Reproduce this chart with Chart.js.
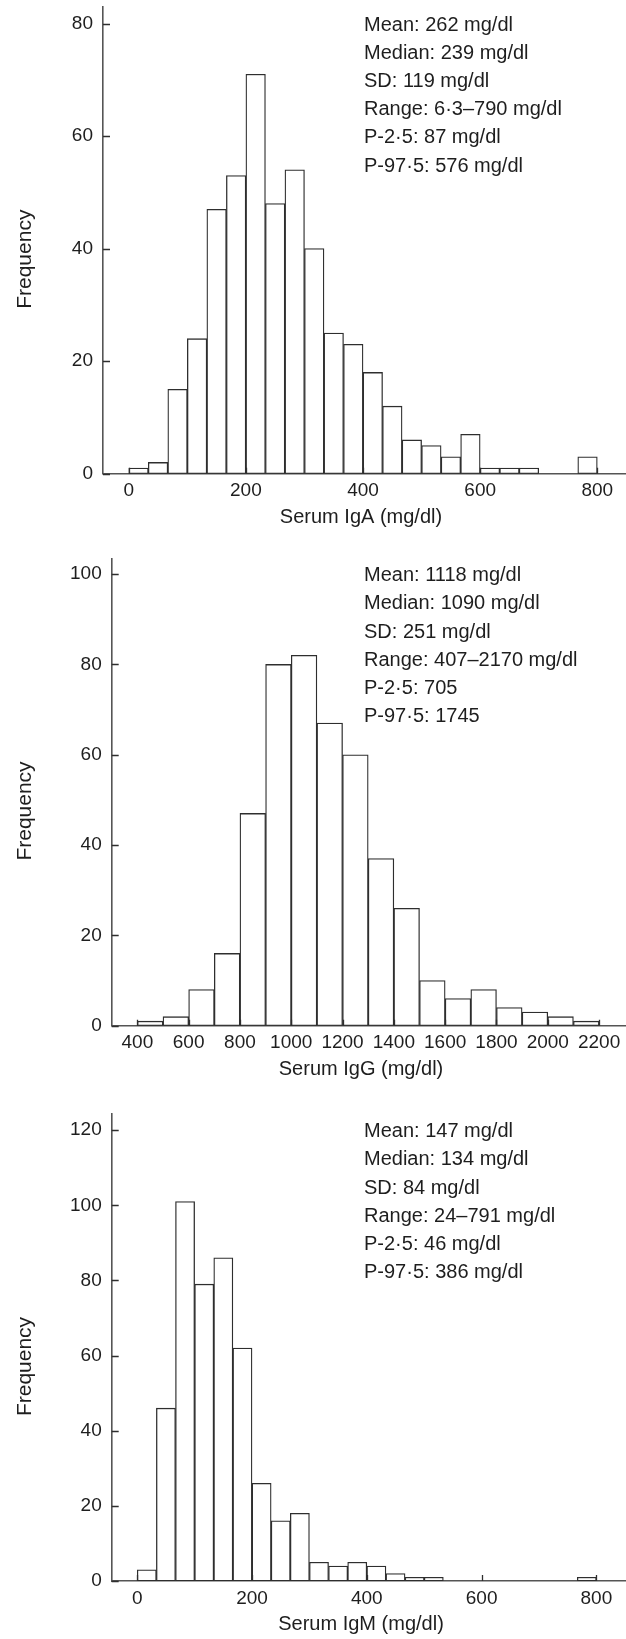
<!DOCTYPE html>
<html>
<head>
<meta charset="utf-8">
<title>Serum immunoglobulin distributions</title>
<script src="https://cdn.jsdelivr.net/npm/chart.js@4.4.1/dist/chart.umd.min.js"></script>
<style>
  html, body { margin: 0; padding: 0; background: #fff; }
  .panel { position: absolute; left: 0; width: 626px; }
  #panelA { top: 0; height: 530px; }
  #panelG { top: 530px; height: 555px; }
  #panelM { top: 1085px; height: 554px; }
</style>
</head>
<body>
<div class="panel" id="panelA"><canvas id="igaChart"></canvas></div>
<div class="panel" id="panelG"><canvas id="iggChart"></canvas></div>
<div class="panel" id="panelM"><canvas id="igmChart"></canvas></div>
<script>
// IgA: 24 bins of 33.3 mg/dl, lower edges
const IGA_BINS = [0, 33.33, 66.67, 100, 133.33, 166.67, 200, 233.33, 266.67, 300, 333.33, 366.67,
  400, 433.33, 466.67, 500, 533.33, 566.67, 600, 633.33, 666.67, 700, 733.33, 766.67];
const IGA_COUNTS = [1, 2, 15, 24, 47, 53, 71, 48, 54, 40, 25, 23, 18, 12, 6, 5, 3, 7, 1, 1, 1, 0, 0, 3];
const IGA_X_TICKS = [0, 200, 400, 600, 800];
const IGA_Y_TICKS = [0, 20, 40, 60, 80];
const IGA_STATS = ["Mean: 262 mg/dl", "Median: 239 mg/dl", "SD: 119 mg/dl",
  "Range: 6·3–790 mg/dl", "P-2·5: 87 mg/dl", "P-97·5: 576 mg/dl"];

// IgG: 100 mg/dl bins
const IGG_BINS = [400, 500, 600, 700, 800, 900, 1000, 1100, 1200, 1300, 1400, 1500, 1600, 1700, 1800, 1900, 2000, 2100];
const IGG_COUNTS = [1, 2, 8, 16, 47, 80, 82, 67, 60, 37, 26, 10, 6, 8, 4, 3, 2, 1];
const IGG_X_TICKS = [400, 600, 800, 1000, 1200, 1400, 1600, 1800, 2000, 2200];
const IGG_Y_TICKS = [0, 20, 40, 60, 80, 100];
const IGG_STATS = ["Mean: 1118 mg/dl", "Median: 1090 mg/dl", "SD: 251 mg/dl",
  "Range: 407–2170 mg/dl", "P-2·5: 705", "P-97·5: 1745"];

// IgM: same binning as IgA
const IGM_BINS = IGA_BINS;
const IGM_COUNTS = [3, 46, 101, 79, 86, 62, 26, 16, 18, 5, 4, 5, 4, 2, 1, 1, 0, 0, 0, 0, 0, 0, 0, 1];
const IGM_X_TICKS = [0, 200, 400, 600, 800];
const IGM_Y_TICKS = [0, 20, 40, 60, 80, 100, 120];
const IGM_STATS = ["Mean: 147 mg/dl", "Median: 134 mg/dl", "SD: 84 mg/dl",
  "Range: 24–791 mg/dl", "P-2·5: 46 mg/dl", "P-97·5: 386 mg/dl"];

const FONT = "'Liberation Sans', Arial, Helvetica, sans-serif";
const INK = "#1e1e1e";
const LINE = "#2e2e2e";
const AXIS = "#555";

// inward tick marks, the stats block and both axis titles
const histText = {
  id: "histText",
  afterDatasetsDraw(chart, args, opts) {
    const { ctx, chartArea, scales: { x, y } } = chart;
    ctx.save();
    ctx.strokeStyle = LINE;
    ctx.lineWidth = 1.3;
    ctx.beginPath();
    y.ticks.forEach((t) => {
      const py = Math.round(y.getPixelForValue(t.value)) + 0.5;
      ctx.moveTo(chartArea.left, py);
      ctx.lineTo(chartArea.left + 7, py);
    });
    x.ticks.forEach((t) => {
      const px = Math.round(x.getPixelForValue(t.value)) + 0.5;
      ctx.moveTo(px, chartArea.bottom);
      ctx.lineTo(px, chartArea.bottom - 6);
    });
    ctx.stroke();

    ctx.fillStyle = INK;
    ctx.font = `20px ${FONT}`;
    ctx.textAlign = "left";
    ctx.textBaseline = "alphabetic";
    const topTick = y.getPixelForValue(y.ticks[y.ticks.length - 1].value);
    opts.stats.forEach((line, i) => ctx.fillText(line, 364, topTick + 7 + i * 28.2));

    ctx.textAlign = "center";
    ctx.fillText(opts.xTitle, 361, chartArea.bottom + 49);

    ctx.font = `21px ${FONT}`;
    ctx.translate(25, (chartArea.top + chartArea.bottom) / 2 + 19);
    ctx.rotate(-Math.PI / 2);
    ctx.textBaseline = "middle";
    ctx.fillText("Frequency", 0, 0);
    ctx.restore();
  },
};

function makeHistogram(canvasId, cfg) {
  const points = cfg.bins.map((b, i) => ({ x: b + cfg.binWidth / 2, y: cfg.counts[i] }));
  return new Chart(document.getElementById(canvasId), {
    type: "bar",
    data: {
      datasets: [{
        data: points,
        backgroundColor: "#fff",
        borderColor: LINE,
        borderWidth: 1.3,
        borderSkipped: false,
        barPercentage: 1,
        categoryPercentage: 1,
      }],
    },
    options: {
      responsive: true,
      maintainAspectRatio: false,
      animation: false,
      events: [],
      layout: { padding: { top: cfg.plotTop, left: 0, right: 0, bottom: 0 } },
      scales: {
        x: {
          type: "linear",
          offset: false,
          min: cfg.xMin,
          max: cfg.xMax,
          afterBuildTicks: (s) => { s.ticks = cfg.xTicks.map((v) => ({ value: v })); },
          afterFit: (s) => { s.height = cfg.xAxisHeight; s.paddingLeft = 0; s.paddingRight = 0; },
          grid: { display: false, drawTicks: false, offset: false },
          border: { display: true, color: AXIS, width: 1.6 },
          ticks: {
            padding: 6, color: INK, font: { family: FONT, size: 19 },
            maxRotation: 0, autoSkip: false, callback: (v) => String(v),
          },
        },
        y: {
          type: "linear",
          min: 0,
          max: cfg.yMax,
          afterBuildTicks: (s) => { s.ticks = cfg.yTicks.map((v) => ({ value: v })); },
          afterFit: (s) => { s.width = cfg.axisLeft; s.paddingTop = 0; s.paddingBottom = 0; },
          grid: { display: false, drawTicks: false },
          border: { display: true, color: AXIS, width: 1.6 },
          ticks: {
            padding: 10, color: INK, font: { family: FONT, size: 19 },
            callback: (v) => String(v),
          },
        },
      },
      plugins: {
        legend: { display: false },
        tooltip: { enabled: false },
        histText: { stats: cfg.stats, xTitle: cfg.xTitle },
      },
    },
    plugins: [histText],
  });
}

makeHistogram("igaChart", {
  bins: IGA_BINS, counts: IGA_COUNTS, binWidth: 33.33,
  xTicks: IGA_X_TICKS, yTicks: IGA_Y_TICKS, stats: IGA_STATS, xTitle: "Serum IgA (mg/dl)",
  xMin: -44, xMax: 849, yMax: 83,
  plotTop: 6.7, xAxisHeight: 56.3, axisLeft: 103,
});

makeHistogram("iggChart", {
  bins: IGG_BINS, counts: IGG_COUNTS, binWidth: 100,
  xTicks: IGG_X_TICKS, yTicks: IGG_Y_TICKS, stats: IGG_STATS, xTitle: "Serum IgG (mg/dl)",
  xMin: 300, xMax: 2305, yMax: 103.5,
  plotTop: 28.3, xAxisHeight: 59.3, axisLeft: 111.7,
});

makeHistogram("igmChart", {
  bins: IGM_BINS, counts: IGM_COUNTS, binWidth: 33.33,
  xTicks: IGM_X_TICKS, yTicks: IGM_Y_TICKS, stats: IGM_STATS, xTitle: "Serum IgM (mg/dl)",
  xMin: -44.5, xMax: 851.6, yMax: 124.3,
  plotTop: 29, xAxisHeight: 58, axisLeft: 111.7,
});
</script>
</body>
</html>
